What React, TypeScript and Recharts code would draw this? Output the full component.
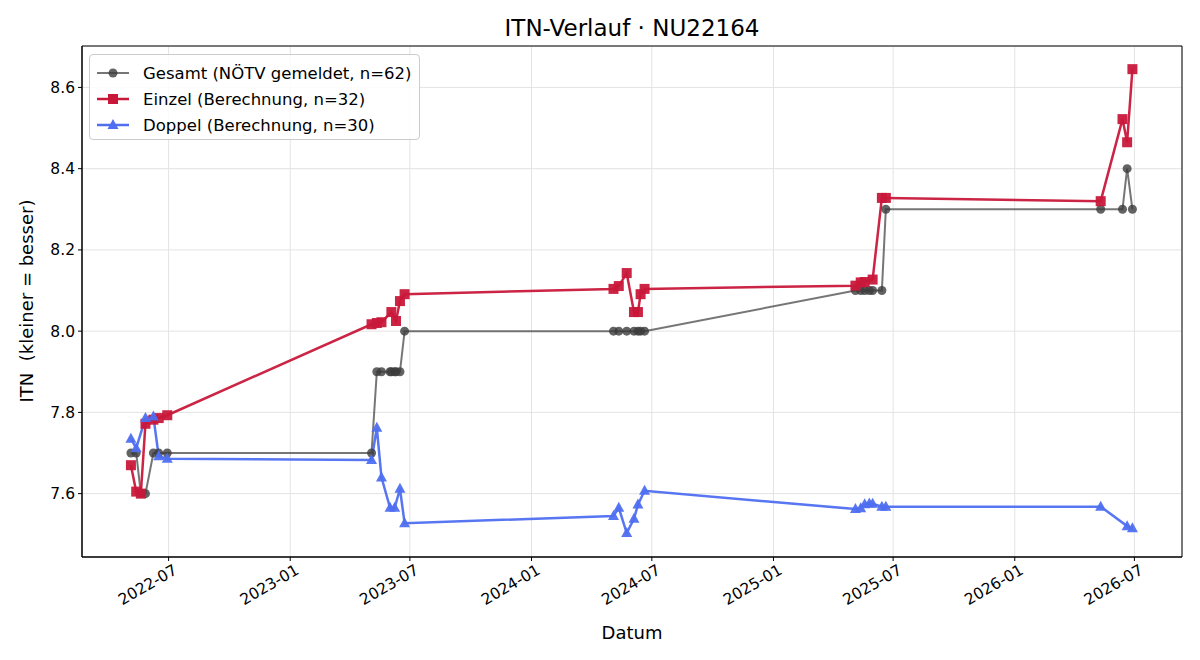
import { LineChart, Line, XAxis, YAxis, CartesianGrid, ReferenceArea } from "recharts";

// Gesamt: ITN as reported by the federation on each match day
const gesamtDates = [
  "2022-05-05", "2022-05-13", "2022-05-20", "2022-05-27", "2022-06-08", "2022-06-16", "2022-06-29",
  "2023-05-04", "2023-05-12", "2023-05-19", "2023-06-01", "2023-06-03", "2023-06-08", "2023-06-10", "2023-06-16", "2023-06-23",
  "2024-05-04", "2024-05-12", "2024-05-24", "2024-06-04", "2024-06-10", "2024-06-14", "2024-06-20",
  "2025-05-05", "2025-05-13", "2025-05-19", "2025-05-26", "2025-05-31", "2025-06-14", "2025-06-20",
  "2026-05-11", "2026-06-13", "2026-06-20", "2026-06-28",
];
const gesamtItn = [
  7.7, 7.7, 7.6, 7.6, 7.7, 7.7, 7.7,
  7.7, 7.9, 7.9, 7.9, 7.9, 7.9, 7.9, 7.9, 8.0,
  8.0, 8.0, 8.0, 8.0, 8.0, 8.0, 8.0,
  8.1, 8.1, 8.1, 8.1, 8.1, 8.1, 8.3,
  8.3, 8.3, 8.4, 8.3,
];

// Einzel: calculated singles ITN
const einzelDates = [
  "2022-05-05", "2022-05-13", "2022-05-20", "2022-05-27", "2022-06-08", "2022-06-16", "2022-06-29",
  "2023-05-04", "2023-05-12", "2023-05-19", "2023-06-03", "2023-06-10", "2023-06-16", "2023-06-23",
  "2024-05-04", "2024-05-12", "2024-05-24", "2024-06-04", "2024-06-10", "2024-06-14", "2024-06-20",
  "2025-05-05", "2025-05-13", "2025-05-19", "2025-05-31", "2025-06-14", "2025-06-20",
  "2026-05-11", "2026-06-13", "2026-06-20", "2026-06-28",
];
const einzelItn = [
  7.67, 7.605, 7.6, 7.772, 7.782, 7.786, 7.793,
  8.017, 8.02, 8.022, 8.047, 8.025, 8.074, 8.091,
  8.104, 8.111, 8.143, 8.047, 8.047, 8.091, 8.104,
  8.112, 8.12, 8.121, 8.127, 8.328, 8.328,
  8.32, 8.522, 8.465, 8.645,
];

// Doppel: calculated doubles ITN
const doppelDates = [
  "2022-05-05", "2022-05-13", "2022-05-27", "2022-06-08", "2022-06-16", "2022-06-29",
  "2023-05-04", "2023-05-12", "2023-05-19", "2023-06-01", "2023-06-08", "2023-06-16", "2023-06-23",
  "2024-05-04", "2024-05-12", "2024-05-24", "2024-06-04", "2024-06-10", "2024-06-20",
  "2025-05-05", "2025-05-13", "2025-05-19", "2025-05-26", "2025-05-31", "2025-06-14", "2025-06-20",
  "2026-05-11", "2026-06-20", "2026-06-28",
];
const doppelItn = [
  7.735, 7.712, 7.786, 7.79, 7.692, 7.686,
  7.683, 7.762, 7.64, 7.565, 7.565, 7.612, 7.527,
  7.545, 7.565, 7.503, 7.538, 7.573, 7.607,
  7.562, 7.564, 7.574, 7.576, 7.575, 7.568, 7.568,
  7.568, 7.52, 7.515,
];

const xTickLabels = ["2022-07", "2023-01", "2023-07", "2024-01", "2024-07", "2025-01", "2025-07", "2026-01", "2026-07"];
const yTicks = [7.6, 7.8, 8.0, 8.2, 8.4, 8.6];

const FONT = "DejaVu Sans, sans-serif";
const GRAY = "#3c3c3c";
const RED = "#c8183a";
const BLUE = "#4f6ff0";

const ts = (d: string) => {
  const [y, m, day] = d.split("-").map(Number);
  return Date.UTC(y, m - 1, day || 1);
};

const toPoints = (dates: string[], values: number[]) => dates.map((d, i) => ({ t: ts(d), v: values[i] }));

const gesamt = toPoints(gesamtDates, gesamtItn);
const einzel = toPoints(einzelDates, einzelItn);
const doppel = toPoints(doppelDates, doppelItn);

const xTicks = xTickLabels.map(ts);
const xDomain = [ts("2022-02-20"), ts("2026-09-11")];
const yDomain = [7.444, 8.702];

const fmtMonth = (t: number) => {
  const d = new Date(t);
  return `${d.getUTCFullYear()}-${String(d.getUTCMonth() + 1).padStart(2, "0")}`;
};

function DateTick({ x, y, payload }: any) {
  return (
    <text
      x={x + 4}
      y={y}
      dy="0.75em"
      transform={`rotate(-30 ${x + 4} ${y})`}
      textAnchor="end"
      fontSize={15.5}
      fontFamily={FONT}
      fill="#000"
    >
      {fmtMonth(payload.value)}
    </text>
  );
}

const squareDot = (props: any) => {
  const { cx, cy, index } = props;
  return <rect key={`sq-${index}`} x={cx - 5} y={cy - 5} width={10} height={10} fill={RED} fillOpacity={0.95} />;
};

const triangleDot = (props: any) => {
  const { cx, cy, index } = props;
  return (
    <polygon
      key={`tr-${index}`}
      points={`${cx},${cy - 6} ${cx - 5.5},${cy + 4} ${cx + 5.5},${cy + 4}`}
      fill={BLUE}
      fillOpacity={0.95}
    />
  );
};

const legendRows = [
  { label: "Gesamt (NÖTV gemeldet, n=62)", color: GRAY, marker: "circle" },
  { label: "Einzel (Berechnung, n=32)", color: RED, marker: "square" },
  { label: "Doppel (Berechnung, n=30)", color: BLUE, marker: "triangle" },
];

function LegendBox() {
  return (
    <div
      style={{
        position: "absolute",
        left: 89,
        top: 54,
        width: 331,
        height: 86,
        boxSizing: "border-box",
        border: "1px solid #cccccc",
        borderRadius: 4,
        background: "rgba(255,255,255,0.85)",
        paddingTop: 5,
        fontFamily: FONT,
        fontSize: 16.5,
      }}
    >
      {legendRows.map((r) => (
        <div key={r.label} style={{ display: "flex", alignItems: "center", height: 26 }}>
          <svg width={53} height={20} style={{ flex: "none" }}>
            <line x1={7} y1={10} x2={39} y2={10} stroke={r.color} strokeWidth={r.marker === "circle" ? 2 : 2.5} strokeOpacity={r.marker === "circle" ? 0.7 : 1} />
            {r.marker === "circle" && <circle cx={23} cy={10} r={4.5} fill={r.color} fillOpacity={0.8} />}
            {r.marker === "square" && <rect x={18} y={5} width={10} height={10} fill={r.color} />}
            {r.marker === "triangle" && <polygon points="23,4 17.5,14 28.5,14" fill={r.color} />}
          </svg>
          <span style={{ color: "#000", whiteSpace: "nowrap" }}>{r.label}</span>
        </div>
      ))}
    </div>
  );
}

export default function App() {
  return (
    <div style={{ position: "absolute", left: 0, top: 0, width: 1200, height: 660, background: "#fff" }}>
      <LineChart width={1200} height={660} margin={{ top: 46, right: 18, bottom: 0, left: 0 }}>
        <CartesianGrid stroke="#e3e3e3" strokeWidth={1} />
        <XAxis
          type="number"
          dataKey="t"
          domain={xDomain}
          ticks={xTicks}
          allowDataOverflow
          height={103}
          tick={<DateTick />}
          tickSize={4}
          tickLine={{ stroke: "#000" }}
          axisLine={{ stroke: "#000" }}
          interval={0}
        />
        <YAxis
          type="number"
          dataKey="v"
          domain={yDomain}
          ticks={yTicks}
          allowDataOverflow
          width={82}
          tickFormatter={(v: number) => v.toFixed(1)}
          tick={{ fontSize: 15.5, fontFamily: FONT, fill: "#000" }}
          tickSize={4}
          tickMargin={3}
          tickLine={{ stroke: "#000" }}
          axisLine={{ stroke: "#000" }}
          interval={0}
        />
        <ReferenceArea x1={xDomain[0]} x2={xDomain[1]} y1={yDomain[0]} y2={yDomain[1]} fill="none" stroke="#000" strokeWidth={1} />
        <Line
          data={gesamt}
          dataKey="v"
          name="Gesamt"
          type="linear"
          stroke={GRAY}
          strokeOpacity={0.7}
          strokeWidth={2}
          dot={{ r: 4.5, fill: GRAY, fillOpacity: 0.8, stroke: "none" }}
          isAnimationActive={false}
        />
        <Line
          data={einzel}
          dataKey="v"
          name="Einzel"
          type="linear"
          stroke={RED}
          strokeOpacity={0.95}
          strokeWidth={2.5}
          dot={squareDot}
          isAnimationActive={false}
        />
        <Line
          data={doppel}
          dataKey="v"
          name="Doppel"
          type="linear"
          stroke={BLUE}
          strokeOpacity={0.95}
          strokeWidth={2.5}
          dot={triangleDot}
          isAnimationActive={false}
        />
      </LineChart>
      <LegendBox />
      <svg width={1200} height={660} style={{ position: "absolute", left: 0, top: 0, pointerEvents: "none" }}>
        <text x={632} y={36} textAnchor="middle" fontSize={23} fontFamily={FONT} fill="#000">
          ITN-Verlauf · NU22164
        </text>
        <text x={632} y={639} textAnchor="middle" fontSize={18} fontFamily={FONT} fill="#000">
          Datum
        </text>
        <text
          x={33}
          y={301}
          textAnchor="middle"
          fontSize={18}
          fontFamily={FONT}
          fill="#000"
          transform="rotate(-90 33 301)"
          style={{ whiteSpace: "pre" }}
        >
          ITN  (kleiner = besser)
        </text>
      </svg>
    </div>
  );
}
